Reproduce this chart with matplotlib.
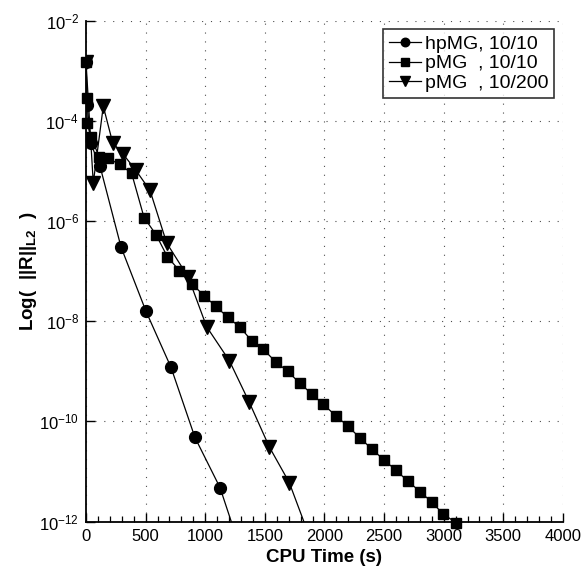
import matplotlib
matplotlib.use("Agg")
import matplotlib.pyplot as plt
import numpy as np
from matplotlib.ticker import FixedLocator, MultipleLocator, LogFormatterSciNotation

plt.rcParams['font.family'] = ['Liberation Sans', 'DejaVu Sans']
plt.rcParams['mathtext.fontset'] = 'custom'
plt.rcParams['mathtext.rm'] = 'Liberation Sans'
plt.rcParams['mathtext.bf'] = 'Liberation Sans:bold'

# hpMG, 10/10 (circles)
t_hpmg = [0, 11, 39, 117, 294, 503, 713, 914, 1124, 1330]
r_hpmg_exp = [-2.82, -3.69, -4.45, -4.90, -6.52, -7.80, -8.92, -10.32, -11.32, -12.80]

# pMG, 10/10 (squares)
t_pmg = [0, 5, 11, 39, 112, 182, 285, 383,
         487, 587, 682, 783, 887, 990, 1088, 1189, 1292, 1390, 1487, 1591,
         1692, 1795, 1893, 1991, 2097, 2195, 2299, 2397, 2500, 2598, 2699,
         2802, 2900, 2997, 3104]
r_pmg_exp = [-2.82, -3.55, -4.04, -4.32, -4.72, -4.75, -4.87, -5.05,
             -5.93, -6.27, -6.71, -6.99, -7.25, -7.49, -7.70, -7.92, -8.12,
             -8.39, -8.56, -8.81, -9.00, -9.24, -9.45, -9.66, -9.89, -10.09,
             -10.33, -10.55, -10.77, -10.97, -11.19, -11.40, -11.61, -11.85,
             -12.02]

# pMG, 10/200 (triangles)
t_pmg200 = [0, 61, 145, 224, 313, 419, 537, 677, 858, 1012, 1203, 1370,
            1538, 1705, 1870]
r_pmg200_exp = [-2.82, -5.24, -3.71, -4.44, -4.67, -4.99, -5.39, -6.44,
                -7.12, -8.11, -8.79, -9.62, -10.51, -11.22, -12.27]

labels = ['hpMG, 10/10', 'pMG  , 10/10', 'pMG  , 10/200']

fig = plt.figure(figsize=(5.83, 5.72), dpi=100)
ax = fig.add_axes([0.1475, 0.088, 0.818, 0.876])

ax.plot(t_hpmg, 10.0 ** np.array(r_hpmg_exp), color='black', lw=0.9,
        marker='o', markersize=8.5, label=labels[0])
ax.plot(t_pmg, 10.0 ** np.array(r_pmg_exp), color='black', lw=0.9,
        marker='s', markersize=7.5, label=labels[1], clip_on=False)
ax.plot(t_pmg200, 10.0 ** np.array(r_pmg200_exp), color='black', lw=0.9,
        marker='v', markersize=10, label=labels[2])

ax.set_yscale('log')
ax.set_xlim(0, 4000)
ax.set_ylim(1e-12, 1e-2)

ax.yaxis.set_major_locator(FixedLocator([1e-12, 1e-10, 1e-8, 1e-6, 1e-4, 1e-2]))
ax.yaxis.set_major_formatter(LogFormatterSciNotation())
ax.yaxis.set_minor_locator(FixedLocator([]))
ax.xaxis.set_major_locator(MultipleLocator(500))
ax.xaxis.set_minor_locator(MultipleLocator(100))

ax.tick_params(which='major', direction='in', length=6.3, width=1.0,
               labelsize=12, pad=5)
ax.tick_params(which='minor', direction='in', length=4.3, width=0.9)
ax.tick_params(axis='x', which='both', top=False)
ax.tick_params(axis='y', which='both', right=False)

ax.spines['top'].set_visible(False)
ax.spines['right'].set_visible(False)
ax.spines['left'].set_linewidth(1.3)
ax.spines['bottom'].set_linewidth(1.3)

ax.grid(True, which='major', color='0.3', linewidth=0.8,
        linestyle=(0, (1, 7)))
ax.set_axisbelow(True)

ax.set_xlabel('CPU Time (s)', fontsize=13.5, fontweight='bold', labelpad=4)
ax.set_ylabel(r'Log(  ||R||$_{\mathbf{L2}}$  )', fontsize=13.5,
              fontweight='bold', labelpad=0)

leg = ax.legend(loc='upper right', fontsize=14, markerscale=0.72,
                frameon=True, fancybox=False, edgecolor='black',
                borderaxespad=0.45, handlelength=1.65, handletextpad=0.2,
                labelspacing=0.1, borderpad=0.3)
leg.get_frame().set_linewidth(1.2)

fig.savefig('out.png', dpi=100)
